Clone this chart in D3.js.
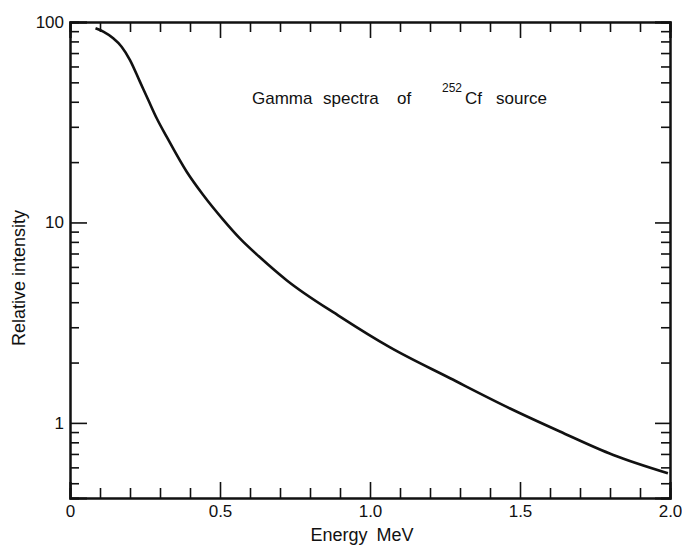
<!DOCTYPE html>
<html>
<head>
<meta charset="utf-8">
<script src="https://cdn.jsdelivr.net/npm/d3@7"></script>
<style>
body{margin:0;background:#fff;}
svg text{font-family:"Liberation Sans",Arial,sans-serif;fill:#111;}
.axis path{stroke:#111;stroke-width:2;}
.axis line{stroke:#111;stroke-width:1.6;}
</style>
</head>
<body>
<svg></svg>
<script>
// energy (MeV) and relative intensity
var energy = [0.085, 0.111, 0.144, 0.172, 0.2, 0.233, 0.261, 0.289, 0.322, 0.389, 0.444, 0.511, 0.567, 0.633, 0.722, 0.9, 1.067, 1.267, 1.467, 1.633, 1.811, 1.993];
var intensity = [93, 89.5, 82.9, 75.3, 64.6, 50.4, 40.8, 33.1, 26.8, 17.9, 13.7, 10.3, 8.3, 6.7, 5.15, 3.39, 2.38, 1.67, 1.18, 0.906, 0.692, 0.561];

var xMajor = [0, 0.5, 1.0, 1.5, 2.0];
var xLabels = ["0", "0.5", "1.0", "1.5", "2.0"];
var xMinor = [0.1,0.2,0.3,0.4,0.6,0.7,0.8,0.9,1.1,1.2,1.3,1.4,1.6,1.7,1.8,1.9];
var yMajor = [1, 10, 100];
var yLabels = ["1", "10", "100"];
var yMinor = [0.5,0.6,0.7,0.8,0.9,2,3,4,5,6,7,8,9,20,30,40,50,60,70,80,90];

var width = 682, height = 547;
var margin = {top: 22, right: 12, bottom: 49, left: 70};

var svg = d3.select("svg").attr("width", width).attr("height", height);

var x = d3.scaleLinear().domain([0, 2.0]).range([margin.left, width - margin.right]);
var y = d3.scaleLog().domain([0.422, 100]).range([height - margin.bottom, margin.top]);

var bottom = height - margin.bottom, right = width - margin.right;

// bottom axis
svg.append("g").attr("class","axis").attr("transform","translate(0,"+bottom+")")
	.call(d3.axisBottom(x).tickValues(xMinor).tickSize(-10).tickFormat(""));
svg.append("g").attr("class","axis").attr("transform","translate(0,"+bottom+")")
	.call(d3.axisBottom(x).tickValues(xMajor).tickSize(-16).tickPadding(7)
		.tickFormat(function(d,i){ return xLabels[i]; }))
	.selectAll("text").style("font-size","17px");
// top axis
svg.append("g").attr("class","axis").attr("transform","translate(0,"+margin.top+")")
	.call(d3.axisTop(x).tickValues(xMinor).tickSize(-10).tickFormat(""));
svg.append("g").attr("class","axis").attr("transform","translate(0,"+margin.top+")")
	.call(d3.axisTop(x).tickValues(xMajor).tickSize(-16).tickFormat(""));
// left axis
svg.append("g").attr("class","axis").attr("transform","translate("+margin.left+",0)")
	.call(d3.axisLeft(y).tickValues(yMinor).tickSize(-9).tickFormat(""));
svg.append("g").attr("class","axis").attr("transform","translate("+margin.left+",0)")
	.call(d3.axisLeft(y).tickValues(yMajor).tickSize(-17).tickPadding(6)
		.tickFormat(function(d,i){ return yLabels[i]; }))
	.selectAll("text").style("font-size","17px");
// right axis
svg.append("g").attr("class","axis").attr("transform","translate("+right+",0)")
	.call(d3.axisRight(y).tickValues(yMinor).tickSize(-9).tickFormat(""));
svg.append("g").attr("class","axis").attr("transform","translate("+right+",0)")
	.call(d3.axisRight(y).tickValues(yMajor).tickSize(-15).tickFormat(""));

// curve
var pts = energy.map(function(e,i){ return [e, intensity[i]]; });
var line = d3.line()
	.x(function(d){ return x(d[0]); })
	.y(function(d){ return y(d[1]); })
	.curve(d3.curveMonotoneX);
svg.append("path").datum(pts)
	.attr("d", line)
	.attr("fill","none")
	.attr("stroke","#111")
	.attr("stroke-width",2.6);

// title
var t = svg.append("text").style("font-size","17px");
t.append("tspan").attr("x",252).attr("y",104).text("Gamma");
t.append("tspan").attr("x",323).attr("y",104).text("spectra");
t.append("tspan").attr("x",397).attr("y",104).text("of");
t.append("tspan").attr("x",442).attr("y",92).style("font-size","12px").text("252");
t.append("tspan").attr("x",465).attr("y",104).text("Cf");
t.append("tspan").attr("x",496).attr("y",104).text("source");

// axis titles
svg.append("text")
	.attr("x", 362).attr("y", 541)
	.attr("text-anchor","middle")
	.style("font-size","18px")
	.style("word-spacing","4px")
	.text("Energy MeV");

svg.append("text")
	.attr("transform","translate(25,278) rotate(-90)")
	.attr("text-anchor","middle")
	.style("font-size","18px")
	.text("Relative intensity");
</script>
</body>
</html>
